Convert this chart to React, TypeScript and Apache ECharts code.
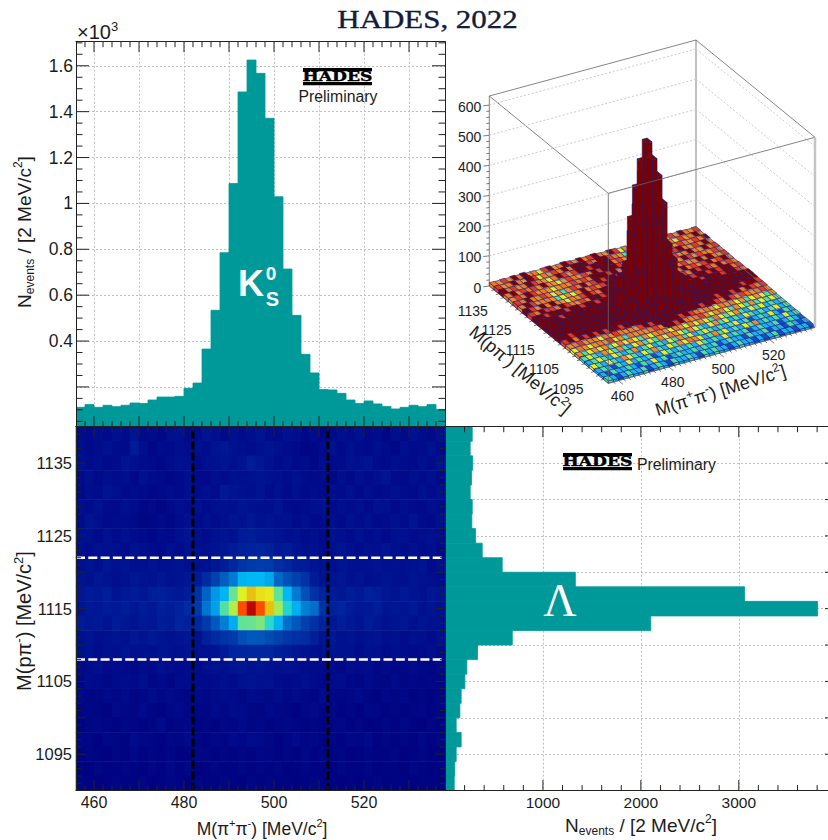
import React, { useEffect, useRef } from "react";
import * as echarts from "echarts";

// ---------- data ----------
const massBinsX = [456,458,460,462,464,466,468,470,472,474,476,478,480,482,484,486,488,490,492,494,496,498,500,502,504,506,508,510,512,514,516,518,520,522,524,526,528,530,532,534,536];
const massBinsY = [1090,1092,1094,1096,1098,1100,1102,1104,1106,1108,1110,1112,1114,1116,1118,1120,1122,1124,1126,1128,1130,1132,1134,1136,1138];

// N events per M(pi+pi-) bin
const kaonCounts = [111,123,111,120,114,120,130,128,143,156,156,159,194,217,365,534,785,1087,1486,1625,1567,1371,1029,714,512,342,261,189,187,172,143,128,139,126,115,104,111,120,114,123,102];
// N events per M(p pi-) bin, lowest mass first
const lambdaCounts = [94,100,114,165,114,152,165,203,223,332,687,2101,3805,3059,1331,584,380,312,274,278,257,271,281,257,278];

// cell contents, top row (1138-1140) first
const cellRows: number[][] = [
  [6,5,7,5,8,6,9,5,6,4,7,8,5,6,9,7,5,8,6,7,9,6,5,8,7,4,6,3,5,7,6,8,5,6,4,7,5,8,6,5,7],
  [7,5,6,8,6,5,12,7,4,6,5,7,6,8,6,9,10,8,7,6,8,9,7,6,5,3,4,6,8,5,7,6,5,7,6,4,7,5,6,8,5],
  [8,6,7,5,6,9,7,6,5,4,6,8,7,5,7,8,9,7,9,13,10,8,6,7,5,6,4,7,5,6,8,7,9,6,5,7,6,5,7,6,8],
  [6,8,5,7,6,7,5,8,6,5,4,5,7,6,5,7,6,8,7,8,9,8,7,6,8,6,5,6,4,7,5,8,6,7,9,6,5,7,6,8,5],
  [5,7,6,9,7,5,6,5,4,5,6,5,7,6,7,6,11,9,8,7,9,6,8,5,7,5,6,5,7,6,8,5,7,5,6,8,6,5,8,6,7],
  [7,6,8,6,5,7,6,4,5,3,5,7,6,8,6,7,8,7,9,8,7,7,9,6,5,6,7,8,5,7,6,7,5,8,7,5,7,6,5,7,6],
  [6,9,7,5,6,6,5,3,4,5,4,6,8,6,7,6,7,9,8,10,8,9,7,8,6,7,5,6,7,5,8,6,7,5,6,8,6,9,6,5,7],
  [8,7,5,8,6,8,6,5,4,6,5,7,9,7,6,8,9,8,12,13,11,10,9,7,8,6,7,5,8,7,6,8,6,7,5,7,8,6,7,8,6],
  [7,6,8,7,7,6,8,7,6,5,7,6,8,8,7,9,10,12,14,15,16,14,11,12,9,7,8,6,7,9,7,6,8,7,9,7,6,8,6,7,5],
  [8,9,7,10,8,9,7,8,9,7,8,9,7,8,8,10,13,18,26,30,32,30,22,18,13,12,9,8,7,9,8,7,8,9,7,8,7,8,9,6,7],
  [9,8,10,9,7,8,10,9,8,10,8,9,10,12,20,35,55,80,145,150,150,130,65,45,35,25,12,8,9,10,8,9,7,8,9,8,7,9,8,7,6],
  [10,12,11,13,9,11,12,10,13,14,12,11,13,25,60,110,145,290,390,430,410,405,280,150,80,45,25,15,12,10,13,11,14,12,10,9,11,9,8,10,9],
  [9,11,10,12,11,13,10,12,11,14,13,15,20,30,75,120,260,345,490,550,490,430,335,195,140,85,70,25,14,16,12,10,11,13,9,10,9,11,8,9,8],
  [12,10,11,9,12,10,9,11,10,13,12,16,14,18,30,50,85,135,280,290,310,205,145,70,50,35,25,15,10,13,11,9,12,10,8,9,10,7,9,8,7],
  [8,9,7,8,9,8,10,9,11,9,8,9,10,8,14,20,26,30,45,50,48,42,35,28,24,22,14,9,10,8,9,7,8,9,7,8,6,8,7,6,7],
  [7,8,6,8,7,9,7,8,7,9,8,7,9,8,8,9,12,16,17,18,18,17,14,12,10,9,8,7,9,8,7,6,8,7,5,7,6,5,6,7,5],
  [5,6,7,5,6,5,4,6,5,7,6,5,6,5,7,8,7,9,10,8,9,8,7,8,7,6,5,6,5,4,6,5,6,4,5,3,4,5,4,3,5],
  [4,6,5,4,5,6,5,7,4,5,3,6,5,6,5,6,7,6,8,9,7,8,6,5,6,7,5,4,5,6,4,3,5,4,3,5,3,4,3,4,3],
  [5,3,4,5,4,5,3,4,6,4,5,4,3,5,4,5,6,5,4,6,5,4,6,4,5,4,3,6,4,3,4,5,3,2,4,3,4,2,3,2,3],
  [3,4,3,2,5,4,3,5,3,2,4,5,3,4,3,5,4,6,5,4,3,5,4,3,2,4,5,3,4,2,3,2,4,3,2,3,2,3,4,2,3],
  [2,3,4,3,2,4,3,2,3,5,2,3,4,2,3,2,4,3,5,3,4,2,3,4,3,2,3,2,3,4,2,3,1,2,3,2,4,2,1,3,2],
  [4,3,2,4,3,2,5,4,3,2,4,3,5,3,2,4,3,5,4,6,5,4,2,3,5,3,4,2,3,2,4,3,5,2,3,2,3,2,4,2,3],
  [2,3,2,1,3,2,4,2,3,2,3,1,2,4,3,2,3,2,3,2,4,3,2,3,2,4,2,3,2,3,1,2,3,2,2,3,1,2,3,2,1],
  [2,1,3,2,2,3,2,1,3,2,4,2,3,1,2,3,2,2,3,2,3,2,3,1,2,3,2,2,1,3,2,2,3,1,2,2,1,3,2,1,2],
  [3,2,1,2,3,2,2,3,1,2,3,2,1,3,2,2,3,2,1,3,2,3,2,2,1,2,3,2,2,1,2,1,2,3,1,2,2,1,2,2,1],
];

// tick labels
const kaonLabelValues = [400,600,800,1000,1200,1400,1600];
const massXLabels = [460,480,500,520];
const massYLabels = [1095,1105,1115,1125,1135];
const lambdaLabels = [1000,2000,3000];
const legoZLabels = [0,100,200,300,400,500,600];

// colour keys
const TEAL = "#009999";
const heatKnots = [0,5,15,50,100,150,200,300,350,400,430,460,495,550];
const heatColors = ["#00007c","#000a8a","#00229c","#0058bc","#0090e0","#00b8f4","#26d8cc","#70e48c","#b8f040","#e8f020","#e8c010","#f09000","#ff4000","#b80800"];
const legoColors = ["#0a50d0","#0a50d0","#18b4f0","#50e0a0","#e8f020","#f09020","#f07a1c","#e83818","#7d0000"];

const FONT = "Liberation Sans";
const INK = "#1c1c1c";
const LINE = { color: "#222222", width: 1 };
const GRIDLINE = { color: "#c0c0c0", width: 1, type: [2, 2] as any };

const range = (a: number, b: number, s: number) => {
  const out: number[] = [];
  for (let v = a; v <= b + 1e-9; v += s) out.push(v);
  return out;
};

const shadeIndex = (v: number) => {
  for (let i = 1; i < heatKnots.length; i++) {
    if (v <= heatKnots[i]) return i - 1 + (v - heatKnots[i - 1]) / (heatKnots[i] - heatKnots[i - 1]);
  }
  return heatKnots.length - 1;
};

// lego projection: grid-local pixels of the floor's front corner and edges
const LEGO = { fx: 168.3, fy: 353.3, xx: 206.7, xy: -56, yx: -119, yy: -97.3, h: 190, zMax: 630 };
const project = (mx: number, my: number, z: number) => {
  const u = (mx - 456) / 82;
  const w = (my - 1090) / 50;
  return [LEGO.fx + u * LEGO.xx + w * LEGO.yx, LEGO.fy + u * LEGO.xy + w * LEGO.yy - (z / LEGO.zMax) * LEGO.h];
};

const supRich = (size: number) => {
  const small = Math.round(size * 0.64);
  const lineHeight = size + 5;
  return {
    n: { fontSize: size, fontFamily: FONT, fill: INK, color: INK, lineHeight },
    s: { fontSize: small, fontFamily: FONT, fill: INK, color: INK, verticalAlign: "top", lineHeight },
    b: { fontSize: small, fontFamily: FONT, fill: INK, color: INK, verticalAlign: "bottom", lineHeight },
  };
};

function buildOption() {
  const xAxes: any[] = [];
  const yAxes: any[] = [];
  const axis = (list: any[], gridIndex: number, min: number, max: number, position: string, extra: any = {}) => {
    list.push({
      type: "value", gridIndex, min, max, position, z: 10,
      axisLine: { show: true, onZero: false, lineStyle: LINE },
      axisTick: { show: false },
      axisLabel: { show: false },
      splitLine: { show: false },
      ...extra,
    });
    return list.length - 1;
  };
  const gridAxis = (list: any[], gridIndex: number, min: number, max: number, position: string, ticks: number[], showLines = true) => {
    list.push({
      type: "value", gridIndex, min, max, position, z: 0,
      axisLine: { show: false },
      axisTick: { show: false, customValues: ticks },
      axisLabel: { show: false },
      splitLine: { show: showLines, lineStyle: GRIDLINE },
    });
    return list.length - 1;
  };
  const label = (values: number[], size: number, margin: number, formatter: any = (v: number) => String(v)) => ({
    show: true, customValues: values, fontSize: size, fontFamily: FONT, color: INK, margin, formatter,
  });

  const xMajor = range(460, 530, 10);
  const xMinor = range(458, 536, 2).filter((v) => v % 10 !== 0);
  const yMajor = range(1095, 1135, 5);
  const yMinor = range(1091, 1139, 1).filter((v) => v % 5 !== 0);
  const kMajor = range(200, 1600, 200);
  const kMinor = range(50, 1700, 50).filter((v) => v % 200 !== 0);
  const lMinor = range(200, 3800, 200).filter((v) => v % 1000 !== 0);

  // panel 0: K0s projection
  const K = { yMin: 26.6, yMax: 1705 };
  const k0x = gridAxis(xAxes, 0, 456, 538, "bottom", xMajor);
  const k0y = gridAxis(yAxes, 0, K.yMin, K.yMax, "left", kMajor);
  axis(xAxes, 0, 456, 538, "bottom");
  axis(xAxes, 0, 456, 538, "top");
  axis(yAxes, 0, K.yMin, K.yMax, "left", {
    axisLabel: label(kaonLabelValues, 17.5, 3, (v: number) => (v === 1000 ? "1" : (v / 1000).toFixed(1))),
  });
  axis(yAxes, 0, K.yMin, K.yMax, "right");

  // panel 1: heat map
  const hx = gridAxis(xAxes, 1, 456, 538, "bottom", xMajor, false);
  const hy = gridAxis(yAxes, 1, 1090, 1140, "left", yMajor, false);
  axis(xAxes, 1, 456, 538, "bottom", { axisLabel: label(massXLabels, 16, 4) });
  axis(xAxes, 1, 456, 538, "top");
  axis(yAxes, 1, 1090, 1140, "left", { axisLabel: label(massYLabels, 16.5, 4) });
  axis(yAxes, 1, 1090, 1140, "right");
  xAxes.push({ type: "category", gridIndex: 1, show: false, data: massBinsX.map(String) });
  const hcx = xAxes.length - 1;
  yAxes.push({ type: "category", gridIndex: 1, show: false, data: massBinsY.map(String) });
  const hcy = yAxes.length - 1;

  // panel 2: Lambda projection
  const LMax = 3911;
  const lx = gridAxis(xAxes, 2, 0, LMax, "bottom", lambdaLabels);
  const ly = gridAxis(yAxes, 2, 1090, 1140, "left", yMajor);
  axis(xAxes, 2, 0, LMax, "bottom", { axisLabel: label(lambdaLabels, 15.5, 4) });
  axis(xAxes, 2, 0, LMax, "top");

  // panel 3: lego, hidden pixel-like axes
  xAxes.push({ type: "value", gridIndex: 3, min: 0, max: 388, show: false });
  const gx = xAxes.length - 1;
  yAxes.push({ type: "value", gridIndex: 3, min: 0, max: 400, inverse: true, show: false });
  const gy = yAxes.length - 1;

  const heatData: any[] = [];
  cellRows.forEach((row, i) => {
    const r = cellRows.length - 1 - i;
    row.forEach((v, c) => heatData.push([c, r, v, shadeIndex(v)]));
  });

  // lego cells, back to front
  const legoData: any[] = [];
  cellRows.forEach((row, i) => {
    const r = cellRows.length - 1 - i;
    for (let c = row.length - 1; c >= 0; c--) legoData.push([massBinsX[c], massBinsY[r], row[c]]);
  });

  const legoRender = (_: any, api: any) => {
    const x0 = api.value(0);
    const y0 = api.value(1);
    const v = api.value(2);
    const x1 = x0 + 2;
    const y1 = y0 + 2;
    const top = v + 5;
    const pt = (mx: number, my: number, z: number) => api.coord(project(mx, my, z));
    const fill = legoColors[Math.min(Math.round(v), legoColors.length - 1)];
    const stroke = { stroke: "#1c1c78", lineWidth: 0.6 };
    const children: any[] = [];
    if (v >= 9 || x0 === 456 || y0 === 1090) {
      children.push({
        type: "polygon",
        shape: { points: [pt(x0, y0, top), pt(x1, y0, top), pt(x1, y0, 0), pt(x0, y0, 0)] },
        style: { fill, ...stroke },
      });
      children.push({
        type: "polygon",
        shape: { points: [pt(x0, y0, top), pt(x0, y1, top), pt(x0, y1, 0), pt(x0, y0, 0)] },
        style: { fill, ...stroke },
      });
    }
    children.push({
      type: "polygon",
      shape: { points: [pt(x0, y0, top), pt(x1, y0, top), pt(x1, y1, top), pt(x0, y1, top)] },
      style: { fill, ...stroke },
    });
    return { type: "group", children };
  };

  const Z = LEGO.zMax;
  const X0 = 456, X1 = 538, Y0 = 1090, Y1 = 1140;
  const backWires: number[][] = [
    [X0, Y1, 0, X0, Y1, Z, 0],
    [X1, Y1, 0, X1, Y1, Z, 0],
    [X0, Y1, Z, X1, Y1, Z, 0],
    [X1, Y1, Z, X1, Y0, Z, 0],
    [X0, Y0, Z, X0, Y1, Z, 0],
    [X0, Y0, 0, X0, Y1, 0, 0],
  ];
  range(100, 600, 100).forEach((z) => {
    backWires.push([X0, Y1, z, X1, Y1, z, 1]);
    backWires.push([X1, Y1, z, X1, Y0, z, 1]);
  });
  const frontWires: number[][] = [
    [X0, Y0, 0, X0, Y0, Z, 0],
    [X0, Y0, Z, X1, Y0, Z, 0],
    [X1, Y0, 0, X1, Y0, Z, 2],
    [X0, Y0, 0, X1, Y0, 0, 0],
    [X1, Y0, 0, X1, Y1, 0, 0],
  ];
  const wireRender = (_: any, api: any) => {
    const a = api.coord(project(api.value(0), api.value(1), api.value(2)));
    const b = api.coord(project(api.value(3), api.value(4), api.value(5)));
    const kind = api.value(6);
    const style =
      kind === 1
        ? { stroke: "#cccccc", lineWidth: 1, lineDash: [2, 2] }
        : kind === 2
        ? { stroke: "#c4c4c4", lineWidth: 2.5 }
        : { stroke: "#666666", lineWidth: 0.8 };
    return { type: "line", shape: { x1: a[0], y1: a[1], x2: b[0], y2: b[1] }, style };
  };

  // lego tick marks: [mx, my, z, direction, length]
  const legoTicks: number[][] = [];
  range(0, 600, 20).forEach((z) => legoTicks.push([X0, Y1, z, 0, z % 100 === 0 ? 6 : 3]));
  range(458, 536, 2).forEach((m) => legoTicks.push([m, Y0, 0, 1, m % 20 === 0 ? 6 : 3]));
  range(1092, 1138, 2).forEach((m) => legoTicks.push([X0, m, 0, 2, m % 10 === 5 ? 6 : 3]));
  const tickDirs = [[-1, 0.12], [0.77, 0.63], [-0.96, 0.26]];
  const legoTickRender = (_: any, api: any) => {
    const a = api.coord(project(api.value(0), api.value(1), api.value(2)));
    const d = tickDirs[api.value(3)];
    const len = api.value(4);
    return {
      type: "line",
      shape: { x1: a[0], y1: a[1], x2: a[0] + d[0] * len, y2: a[1] + d[1] * len },
      style: { stroke: "#444444", lineWidth: 0.7 },
    };
  };

  // lego tick labels: [mx, my, z, axis]
  const legoLabelData: number[][] = [
    ...legoZLabels.map((z) => [X0, Y1, z, 0]),
    ...massXLabels.map((m) => [m, Y0, 0, 1]),
    ...massYLabels.map((m) => [X0, m, 0, 2]),
  ];
  const labelRender = (_: any, api: any) => {
    const mx = api.value(0), my = api.value(1), z = api.value(2), kind = api.value(3);
    const a = api.coord(project(mx, my, z));
    const text = kind === 0 ? String(z) : kind === 1 ? String(mx) : String(my);
    const off = kind === 0 ? [-8, 1.5] : kind === 1 ? [4, 15.5] : [-28.5, 15];
    return {
      type: "text",
      style: {
        x: a[0] + off[0], y: a[1] + off[1], text,
        fontSize: 14, fontFamily: FONT, fill: INK,
        align: kind === 0 ? "right" : "center", verticalAlign: "middle",
      },
    };
  };

  const histRect = (vertical: boolean) => (_: any, api: any) => {
    const lo = api.value(0);
    const c = api.value(1);
    const a = vertical ? api.coord([lo, c]) : api.coord([0, lo + 2]);
    const b = vertical ? api.coord([lo + 2, K.yMin]) : api.coord([c, lo]);
    return {
      type: "rect",
      shape: { x: a[0], y: a[1], width: b[0] - a[0], height: b[1] - a[1] },
      style: { fill: TEAL, stroke: TEAL, lineWidth: 0.8 },
    };
  };

  // frame tick marks, one custom series per frame side
  const tickSide = (xIdx: number, yIdx: number, along: "x" | "y", at: number, sign: number, major: number[], majorLen: number, minor: number[], minorLen: number) => ({
    type: "custom", xAxisIndex: xIdx, yAxisIndex: yIdx, z: 10, clip: false, silent: true,
    data: [...major.map((v) => [v, majorLen]), ...minor.map((v) => [v, minorLen])],
    renderItem: (_: any, api: any) => {
      const v = api.value(0);
      const len = api.value(1);
      const p = api.coord(along === "x" ? [v, at] : [at, v]);
      return {
        type: "line",
        shape: along === "x"
          ? { x1: p[0], y1: p[1], x2: p[0], y2: p[1] + sign * len }
          : { x1: p[0], y1: p[1], x2: p[0] + sign * len, y2: p[1] },
        style: { stroke: "#222222", lineWidth: 1 },
      };
    },
  });

  const series: any[] = [
    {
      type: "custom", name: "K0s projection", xAxisIndex: k0x, yAxisIndex: k0y, z: 2, clip: true,
      data: massBinsX.map((m, i) => [m, kaonCounts[i]]), renderItem: histRect(true),
    },
    {
      type: "custom", name: "Lambda projection", xAxisIndex: lx, yAxisIndex: ly, z: 2, clip: true,
      data: massBinsY.map((m, i) => [m, lambdaCounts[i]]), renderItem: histRect(false),
    },
    {
      type: "heatmap", name: "Cells", xAxisIndex: hcx, yAxisIndex: hcy, z: 2, progressive: 0,
      data: heatData, emphasis: { disabled: true },
    },
    ...[482, 512].map((m) => ({
      type: "line", xAxisIndex: hx, yAxisIndex: hy, z: 5, symbol: "none", silent: true,
      data: [[m, 1090], [m, 1140]],
      lineStyle: { color: "#000000", width: 3, type: [8, 3] },
    })),
    ...[1108, 1122].map((m) => ({
      type: "line", xAxisIndex: hx, yAxisIndex: hy, z: 6, symbol: "none", silent: true,
      data: [[456, m], [538, m]],
      lineStyle: { color: "#ffffff", width: 2.5, type: [9, 3.3] },
    })),
    {
      type: "custom", name: "Lego back", xAxisIndex: gx, yAxisIndex: gy, z: 1, clip: false,
      data: backWires, renderItem: wireRender, silent: true,
    },
    {
      type: "custom", name: "Lego", xAxisIndex: gx, yAxisIndex: gy, z: 2, clip: false,
      data: legoData, renderItem: legoRender, silent: true, progressive: 0,
    },
    {
      type: "custom", name: "Lego front", xAxisIndex: gx, yAxisIndex: gy, z: 3, clip: false,
      data: frontWires, renderItem: wireRender, silent: true,
    },
    {
      type: "custom", name: "Lego ticks", xAxisIndex: gx, yAxisIndex: gy, z: 3, clip: false,
      data: legoTicks, renderItem: legoTickRender, silent: true, progressive: 0,
    },
    {
      type: "custom", name: "Lego labels", xAxisIndex: gx, yAxisIndex: gy, z: 4, clip: false,
      data: legoLabelData, renderItem: labelRender, silent: true,
    },
    tickSide(k0x, k0y, "x", K.yMin, -1, xMajor, 10.5, xMinor, 5.5),
    tickSide(k0x, k0y, "x", K.yMax, 1, xMajor, 10.5, xMinor, 5.5),
    tickSide(k0x, k0y, "y", 456, 1, kMajor, 13, kMinor, 6.5),
    tickSide(k0x, k0y, "y", 538, -1, kMajor, 13, kMinor, 6.5),
    tickSide(hx, hy, "x", 1090, -1, xMajor, 10.5, xMinor, 5.5),
    tickSide(hx, hy, "x", 1140, 1, xMajor, 10.5, xMinor, 5.5),
    tickSide(hx, hy, "y", 456, 1, yMajor, 10, yMinor, 5),
    tickSide(hx, hy, "y", 538, -1, yMajor, 10, yMinor, 5),
    tickSide(lx, ly, "x", 1090, -1, lambdaLabels, 10.5, lMinor, 5.5),
    tickSide(lx, ly, "x", 1140, 1, lambdaLabels, 10.5, lMinor, 5.5),
    tickSide(lx, ly, "y", LMax, -1, yMajor, 3, [], 0),
  ];

  const richText = (x: number, y: number, text: string, size: number, rotation = 0) => ({
    type: "text", x, y, rotation, z: 30, silent: true,
    style: { text, align: "center", verticalAlign: "middle", rich: supRich(size), fill: INK },
  });
  const plain = (x: number, y: number, text: string, fontSize: number, extra: any = {}, el: any = {}) => ({
    type: "text", x, y, z: 30, silent: true, ...el,
    style: { text, fontSize, fontFamily: FONT, fill: INK, align: "center", verticalAlign: "middle", ...extra },
  });
  const logo = (x: number, y: number) => ({
    type: "group", x, y, z: 30, silent: true,
    children: [
      { type: "rect", z: 30, shape: { x: 0, y: 0, width: 69, height: 3.2 }, style: { fill: "#000" } },
      { type: "rect", z: 30, shape: { x: 0, y: 14, width: 69, height: 3.2 }, style: { fill: "#000" } },
      {
        type: "text", x: 34.5, y: 8.6, scaleX: 1.32, z: 30,
        style: { text: "HADES", fontSize: 13, fontWeight: "bold", fontFamily: "DejaVu Serif", fill: "#000", stroke: "#000", lineWidth: 0.4, align: "center", verticalAlign: "middle" },
      },
    ],
  });

  const graphic = [
    plain(427.5, 19, "HADES, 2022", 26, { fontFamily: "Liberation Serif", fill: "#141c3c", stroke: "#141c3c", lineWidth: 0.35 }, { scaleX: 1.19 }),
    {
      type: "text", x: 77, y: 32, z: 30, silent: true,
      style: { text: "{n|×10}{s|3}", align: "left", verticalAlign: "middle", rich: supRich(20) },
    },
    richText(24, 232, "{n|N}{b|events}{n| / [2 MeV/c}{s|2}{n|]}", 19, Math.PI / 2),
    richText(24, 621, "{n|M(pπ}{s|-}{n|) [MeV/c}{s|2}{n|]}", 20, Math.PI / 2),
    richText(262, 829, "{n|M(π}{s|+}{n|π}{s|-}{n|) [MeV/c}{s|2}{n|]}", 17.5),
    richText(641, 825, "{n|N}{b|events}{n| / [2 MeV/c}{s|2}{n|]}", 19),
    richText(720.5, 390.5, "{n|M(π}{s|+}{n|π}{s|-}{n|) [MeV/c}{s|2}{n|]}", 18, 0.3),
    richText(520, 370, "{n|M(pπ}{s|-}{n|) [MeV/c}{s|2}{n|]}", 18, -0.7),
    logo(303, 68),
    plain(338, 96, "Preliminary", 15.8),
    logo(563, 453),
    plain(676.5, 464, "Preliminary", 15.8),
    plain(251, 283, "K", 36, { fontWeight: "bold", fill: "#ffffff" }),
    plain(271, 273, "0", 19, { fontWeight: "bold", fill: "#ffffff" }),
    plain(272.5, 299, "S", 20, { fontWeight: "bold", fill: "#ffffff" }),
    plain(560, 600, "Λ", 46, { fontFamily: "Liberation Serif", fill: "#ffffff" }),
  ];

  return {
    animation: false,
    backgroundColor: "#ffffff",
    grid: [
      { left: 76, top: 41.7, width: 369, height: 385 },
      { left: 76, top: 426.7, width: 369, height: 363.9 },
      { left: 445, top: 426.7, width: 383, height: 363.9 },
      { left: 440, top: 30, width: 388, height: 400 },
    ],
    xAxis: xAxes,
    yAxis: yAxes,
    visualMap: [{
      type: "continuous", show: false, seriesIndex: 2, dimension: 3,
      min: 0, max: heatKnots.length - 1, inRange: { color: heatColors },
    }],
    series,
    graphic,
  };
}

export default function App() {
  const ref = useRef<HTMLDivElement>(null);
  useEffect(() => {
    if (!ref.current) return;
    const chart = echarts.init(ref.current, undefined, { renderer: "svg" });
    chart.setOption(buildOption() as any);
    return () => chart.dispose();
  }, []);
  return <div ref={ref} style={{ position: "fixed", left: 0, top: 0, width: 828, height: 840 }} />;
}
